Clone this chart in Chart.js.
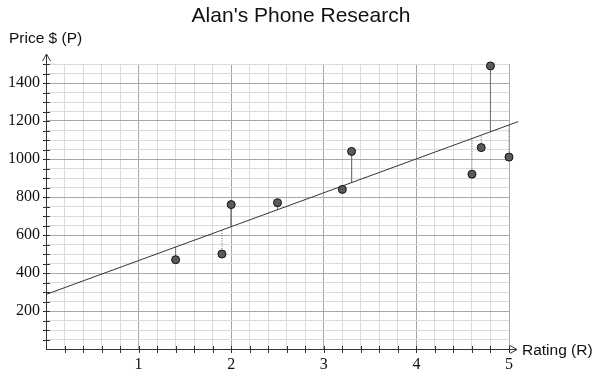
<!DOCTYPE html>
<html>
<head>
<meta charset="utf-8">
<script src="https://cdn.jsdelivr.net/npm/chart.js@4"></script>
<style>
  html, body { margin: 0; padding: 0; background: #fff; }
  #wrap { width: 602px; height: 377px; }
</style>
</head>
<body>
<div id="wrap"><canvas id="phoneChart" width="602" height="377"></canvas></div>
<script>
// data
const ratings = [1.4, 1.9, 2.0, 2.5, 3.2, 3.3, 4.6, 4.7, 4.8, 5.0];
const prices = [470, 500, 760, 770, 840, 1040, 920, 1060, 1490, 1010];
const dottedResidual = [false, true, false, false, false, false, true, true, false, true];

// line of best fit (end points)
const fitX = [0, 5.1];
const fitY = [287, 1197];

const xTicks = [1, 2, 3, 4, 5];
const yTicks = [200, 400, 600, 800, 1000, 1200, 1400];

const fitAt = (x) => fitY[0] + (fitY[1] - fitY[0]) * (x - fitX[0]) / (fitX[1] - fitX[0]);

// residual segments, one small dataset each
const residualSets = ratings.map((r, i) => ({
  type: 'line',
  data: [{ x: r, y: prices[i] }, { x: r, y: fitAt(r) }],
  borderColor: dottedResidual[i] ? '#666' : '#777',
  borderWidth: 1,
  borderDash: dottedResidual[i] ? [1, 1.5] : [],
  pointRadius: 0,
  fill: false,
  clip: false,
  order: 3
}));

const near = (v, step) => Math.abs(v / step - Math.round(v / step)) < 1e-6;

// axes with arrows, tick marks, axis names and title
const axesPlugin = {
  id: 'axesPlugin',
  afterDatasetsDraw(chart) {
    const { ctx, chartArea, scales } = chart;
    const x0 = scales.x.getPixelForValue(0);
    const y0 = scales.y.getPixelForValue(0);
    ctx.save();
    ctx.strokeStyle = '#333';
    ctx.lineWidth = 1;
    ctx.beginPath();
    // y axis
    ctx.moveTo(x0 + 0.5, y0);
    ctx.lineTo(x0 + 0.5, chartArea.top - 9);
    ctx.moveTo(x0 - 3.5, chartArea.top - 3);
    ctx.lineTo(x0 + 0.5, chartArea.top - 10);
    ctx.lineTo(x0 + 4.5, chartArea.top - 3);
    // x axis
    ctx.moveTo(x0, y0 + 0.5);
    ctx.lineTo(chartArea.right + 7, y0 + 0.5);
    ctx.moveTo(chartArea.right + 1, y0 - 3.5);
    ctx.lineTo(chartArea.right + 8, y0 + 0.5);
    ctx.lineTo(chartArea.right + 1, y0 + 4.5);
    // tick marks
    for (let v = 50; v <= 1500; v += 50) {
      const py = Math.round(scales.y.getPixelForValue(v)) + 0.5;
      ctx.moveTo(x0 - 3, py);
      ctx.lineTo(x0 + 4, py);
    }
    for (let k = 1; k <= 25; k++) {
      const px = Math.round(scales.x.getPixelForValue(k * 0.2)) + 0.5;
      ctx.moveTo(px, y0 - 3);
      ctx.lineTo(px, y0 + 4);
    }
    ctx.stroke();

    ctx.fillStyle = '#111';
    ctx.textBaseline = 'alphabetic';
    ctx.font = '21px "Liberation Sans", Arial, sans-serif';
    ctx.textAlign = 'center';
    ctx.fillText("Alan's Phone Research", chart.width / 2, 22);
    ctx.font = '15.5px "Liberation Sans", Arial, sans-serif';
    ctx.textAlign = 'left';
    ctx.fillText('Price $ (P)', 9, 43);
    ctx.fillText('Rating (R)', chartArea.right + 13, y0 + 6);
    ctx.restore();
  }
};

const ctx = document.getElementById('phoneChart');

new Chart(ctx, {
  type: 'scatter',
  data: {
    datasets: [
      {
        type: 'scatter',
        data: ratings.map((r, i) => ({ x: r, y: prices[i] })),
        backgroundColor: '#5a5a5a',
        borderColor: '#111',
        borderWidth: 1,
        pointRadius: 4,
        clip: false,
        order: 1
      },
      {
        type: 'line',
        data: fitX.map((x, i) => ({ x: x, y: fitY[i] })),
        borderColor: '#333',
        borderWidth: 1,
        pointRadius: 0,
        fill: false,
        clip: false,
        order: 2
      },
      ...residualSets
    ]
  },
  options: {
    responsive: false,
    animation: false,
    events: [],
    layout: { padding: { left: 0, right: 93, top: 64, bottom: 0 } },
    plugins: {
      legend: { display: false },
      tooltip: { enabled: false },
      title: { display: false }
    },
    scales: {
      x: {
        type: 'linear',
        min: 0,
        max: 5,
        border: { display: false },
        grid: {
          drawTicks: false,
          color: (c) => near(c.tick.value, 1) ? '#a8a8a8' : '#dadada',
          lineWidth: 1
        },
        ticks: {
          stepSize: 0.2,
          autoSkip: false,
          maxRotation: 0,
          padding: 6,
          color: '#111',
          font: { family: '"Liberation Serif", "Times New Roman", serif', size: 16 },
          callback: (v) => xTicks.some((t) => Math.abs(t - v) < 1e-6) ? String(Math.round(v)) : ''
        },
        afterFit: (scale) => { scale.height = 28; }
      },
      y: {
        type: 'linear',
        min: 0,
        max: 1500,
        border: { display: false },
        grid: {
          drawTicks: false,
          color: (c) => near(c.tick.value, 200) ? '#a8a8a8' : '#dadada',
          lineWidth: 1
        },
        ticks: {
          stepSize: 50,
          autoSkip: false,
          padding: 6,
          color: '#111',
          font: { family: '"Liberation Serif", "Times New Roman", serif', size: 16 },
          callback: (v) => yTicks.includes(v) ? String(v) : ''
        },
        afterFit: (scale) => { scale.width = 46; }
      }
    }
  },
  plugins: [axesPlugin]
});
</script>
</body>
</html>
